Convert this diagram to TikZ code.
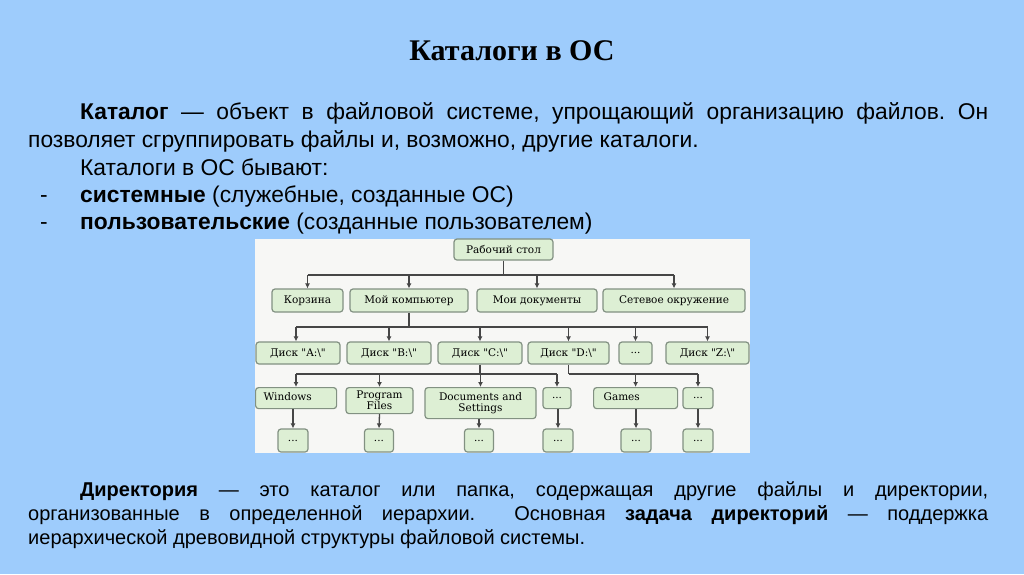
\documentclass[tikz,border=0pt]{standalone}
\usepackage{fontspec}
\setmainfont{Liberation Sans}
\newfontfamily\titlefont{Liberation Serif}
\newfontfamily\dfont{DejaVu Serif}
\usetikzlibrary{arrows.meta}
\definecolor{bgblue}{RGB}{158,204,252}
\definecolor{panel}{RGB}{247,247,245}
\definecolor{boxfill}{RGB}{221,239,212}
\definecolor{boxline}{RGB}{130,145,130}
\definecolor{wire}{RGB}{70,70,70}
\begin{document}
\frenchspacing
\begin{tikzpicture}[x=1pt,y=-1pt,
  txt/.style={font=\fontsize{22.8}{27}\selectfont, inner sep=0pt, anchor=base west},
  btxt/.style={font=\fontsize{20}{24}\selectfont, inner sep=0pt, anchor=base west},
  box/.style={draw=boxline, line width=1.2pt, fill=boxfill, rounded corners=3pt,
    inner sep=0pt, font=\dfont\fontsize{10.5}{12}\selectfont, align=center},
  wline/.style={draw=wire, line width=1.3pt},
  arr/.style={draw=wire, line width=1.3pt, -{Latex[length=5pt,width=5pt]}}]
\useasboundingbox (0,0) rectangle (1024,574);
\fill[bgblue] (0,0) rectangle (1024,574);
\fill[panel] (255,239) rectangle (750,453);

% title
\node[inner sep=0pt, anchor=base, font=\titlefont\bfseries\fontsize{30}{36}\selectfont] (title) at (512,60) {Каталоги в ОС};

% text
\node[txt] (t1) at (80,119) {\makebox[908pt][s]{\textbf{Каталог} — объект в файловой системе, упрощающий организацию файлов. Он}};
\node[txt] (t2) at (28,147) {позволяет сгруппировать файлы и, возможно, другие каталоги.};
\node[txt] (t3) at (80,175) {Каталоги в ОС бывают:};
\node[txt] (d1) at (40,202) {-};
\node[txt] (t4) at (80,202) {\textbf{системные} (служебные, созданные ОС)};
\node[txt] (d2) at (40,229) {-};
\node[txt] (t5) at (80,229) {\textbf{пользовательские} (созданные пользователем)};

\node[btxt] (b1) at (80,496) {\makebox[908pt][s]{\textbf{Директория} — это каталог или папка, содержащая другие файлы и директории,}};
\node[btxt] (b2) at (28,520) {\makebox[960pt][s]{организованные в определенной иерархии.\ \ Основная \textbf{задача директорий} — поддержка}};
\node[btxt] (b3) at (28,544) {иерархической древовидной структуры файловой системы.};

% level 1
\node[box, minimum width=99pt, minimum height=21pt] (rs) at (503.5,249.5) {Рабочий стол};
% level 2
\node[box, minimum width=71pt, minimum height=23pt] (kor) at (307.5,300.5) {Корзина};
\node[box, minimum width=118pt, minimum height=23pt] (mk) at (409,300.5) {Мой компьютер};
\node[box, minimum width=120pt, minimum height=23pt] (md) at (537,300.5) {Мои документы};
\node[box, minimum width=142pt, minimum height=23pt] (so) at (674,300.5) {Сетевое окружение};
% level 3
\node[box, minimum width=84pt, minimum height=22pt] (da) at (298,353) {Диск "A:\textbackslash"};
\node[box, minimum width=84pt, minimum height=22pt] (db) at (389,353) {Диск "B:\textbackslash"};
\node[box, minimum width=84pt, minimum height=22pt] (dc) at (480,353) {Диск "C:\textbackslash"};
\node[box, minimum width=81pt, minimum height=22pt] (dd) at (568.5,353) {Диск "D:\textbackslash"};
\node[box, minimum width=33pt, minimum height=22pt] (dx) at (635.5,353) {...};
\node[box, minimum width=83pt, minimum height=22pt] (dz) at (707.5,353) {Диск "Z:\textbackslash"};
% level 4
\node[box, text width=65pt, inner xsep=8pt, minimum height=21pt, align=left, anchor=north west] (win) at (255,387) {Windows\strut};
\node[box, minimum width=67pt, minimum height=26pt, anchor=north] (pf) at (379.5,387) {Program\\[-1pt]Files};
\node[box, minimum width=111pt, minimum height=31pt, anchor=north] (ds) at (480.5,387) {Documents and\\[-1pt]Settings};
\node[box, minimum width=28pt, minimum height=21pt, anchor=north] (e1) at (557,387) {...};
\node[box, text width=64pt, inner xsep=10pt, minimum height=21pt, align=left, anchor=north west] (gm) at (593,387) {Games\strut};
\node[box, minimum width=30pt, minimum height=21pt, anchor=north] (e2) at (698,387) {...};
% level 5
\node[box, minimum width=30pt, minimum height=23pt] (f1) at (293,440.5) {...};
\node[box, minimum width=29pt, minimum height=23pt] (f2) at (379,440.5) {...};
\node[box, minimum width=29pt, minimum height=23pt] (f3) at (479,440.5) {...};
\node[box, minimum width=30pt, minimum height=23pt] (f4) at (558,440.5) {...};
\node[box, minimum width=30pt, minimum height=23pt] (f5) at (636,440.5) {...};
\node[box, minimum width=30pt, minimum height=23pt] (f6) at (698,440.5) {...};

% bus coordinates
\coordinate (bus1) at (0,275);
\coordinate (bus2) at (0,327);
\coordinate (bus3) at (0,374);

% level 1 -> 2
\draw[wline] (rs.south) -- (rs.south |- bus1);
\draw[wline] (kor.north |- bus1) -- (so.north |- bus1);
\foreach \n in {kor,mk,md,so} \draw[arr] (\n.north |- bus1) -- (\n.north);
% level 2 -> 3
\draw[wline] (mk.south) -- (mk.south |- bus2);
\coordinate (ca) at (296,327);
\draw[wline] (ca) -- (dz.north |- bus2);
\draw[arr] (ca) -- (ca |- da.north);
\foreach \n in {db,dc,dd,dx,dz} \draw[arr] (\n.north |- bus2) -- (\n.north);
% C -> level 4
\draw[wline] (dc.south) -- (dc.south |- bus3);
\coordinate (cw) at (296,374);
\draw[wline] (cw) -- (e1.north |- bus3);
\draw[arr] (cw) -- (cw |- win.north);
\foreach \n in {pf,ds,e1} \draw[arr] (\n.north |- bus3) -- (\n.north);
% D -> level 4
\draw[wline] (dd.south) -- (dd.south |- bus3);
\draw[wline] (dd.south |- bus3) -- (e2.north |- bus3);
\foreach \n in {gm,e2} \draw[arr] (\n.north |- bus3) -- (\n.north);
% level 4 -> 5
\draw[arr] (f1.north |- win.south) -- (f1.north);
\draw[arr] (pf.south) -- (f2.north);
\draw[arr] (f3.north |- ds.south) -- (f3.north);
\draw[arr] (f4.north |- e1.south) -- (f4.north);
\draw[arr] (f5.north |- gm.south) -- (f5.north);
\draw[arr] (e2.south) -- (f6.north);
\end{tikzpicture}
\end{document}
